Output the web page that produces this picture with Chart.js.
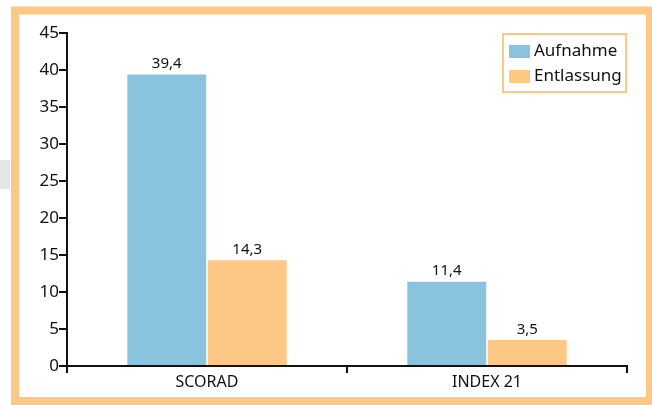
<!DOCTYPE html>
<html>
<head>
<meta charset="utf-8">
<script src="https://cdn.jsdelivr.net/npm/chart.js@4"></script>
<style>
  html, body { margin: 0; padding: 0; background: #fff; }
  #wrap { position: relative; width: 652px; height: 405px; }
</style>
</head>
<body>
<div id="wrap"><canvas id="c" width="652" height="405"></canvas></div>
<script>
const categories = ['SCORAD', 'INDEX 21'];
const aufnahme = [39.4, 11.4];
const entlassung = [14.3, 3.5];
const yTicks = [0, 5, 10, 15, 20, 25, 30, 35, 40, 45];

const BLUE = '#8AC3DE';
const ORANGE = '#FDC784';
const FONT = "'Noto Sans', 'Open Sans', sans-serif";

const fmt = (v) => String(v).replace('.', ',');

// frame, gray tab, value labels, boxed legend
const decor = {
  id: 'decor',
  beforeDraw(chart) {
    const c = chart.ctx;
    c.save();
    c.fillStyle = '#e6e6e6';
    c.fillRect(0, 160, 10, 29);
    c.strokeStyle = ORANGE;
    c.lineWidth = 8;
    c.strokeRect(15, 10.5, 635, 390.5);
    c.restore();
  },
  afterDatasetsDraw(chart) {
    const c = chart.ctx;
    c.save();
    c.fillStyle = '#111';
    c.font = '15px ' + FONT;
    c.textAlign = 'center';
    c.textBaseline = 'bottom';
    chart.data.datasets.forEach((ds, i) => {
      chart.getDatasetMeta(i).data.forEach((bar, j) => {
        c.fillText(fmt(ds.data[j]), bar.x, bar.y - 3);
      });
    });
    // legend
    const a = chart.chartArea;
    const bx = a.right - 124, by = a.top + 1;
    c.strokeStyle = ORANGE;
    c.lineWidth = 2;
    c.strokeRect(bx, by, 123, 58);
    c.textAlign = 'left';
    c.textBaseline = 'middle';
    c.font = '17px ' + FONT;
    chart.data.datasets.forEach((ds, i) => {
      const y = by + 11 + i * 25;
      c.fillStyle = ds.backgroundColor;
      c.fillRect(bx + 6, y, 21, 13);
      c.fillStyle = '#111';
      c.fillText(ds.label, bx + 31, y + 6);
    });
    c.restore();
  }
};

new Chart(document.getElementById('c'), {
  type: 'bar',
  data: {
    labels: categories,
    datasets: [
      { label: 'Aufnahme', data: aufnahme, backgroundColor: BLUE },
      { label: 'Entlassung', data: entlassung, backgroundColor: ORANGE },
    ],
  },
  plugins: [decor],
  options: {
    responsive: false,
    animation: false,
    devicePixelRatio: 1,
    layout: { padding: { top: 33, right: 25, bottom: 0, left: 0 } },
    plugins: { legend: { display: false }, tooltip: { enabled: false } },
    datasets: { bar: { categoryPercentage: 0.575, barPercentage: 0.98 } },
    scales: {
      x: {
        grid: { display: true, drawOnChartArea: false, drawTicks: true, tickLength: 7, color: '#111', lineWidth: 2, offset: true },
        border: { display: true, color: '#111', width: 2 },
        ticks: { color: '#111', font: { family: FONT, size: 16 }, padding: 0 },
        afterFit(s) { s.height = 39; },
      },
      y: {
        min: 0,
        max: 45,
        afterBuildTicks(s) { s.ticks = yTicks.map((v) => ({ value: v })); },
        grid: { display: true, drawOnChartArea: false, drawTicks: true, tickLength: 8, color: '#111', lineWidth: 2 },
        border: { display: true, color: '#111', width: 2 },
        ticks: { color: '#111', font: { family: FONT, size: 17 }, padding: 0 },
        afterFit(s) { s.width = 67; },
      },
    },
  },
});
</script>
</body>
</html>
